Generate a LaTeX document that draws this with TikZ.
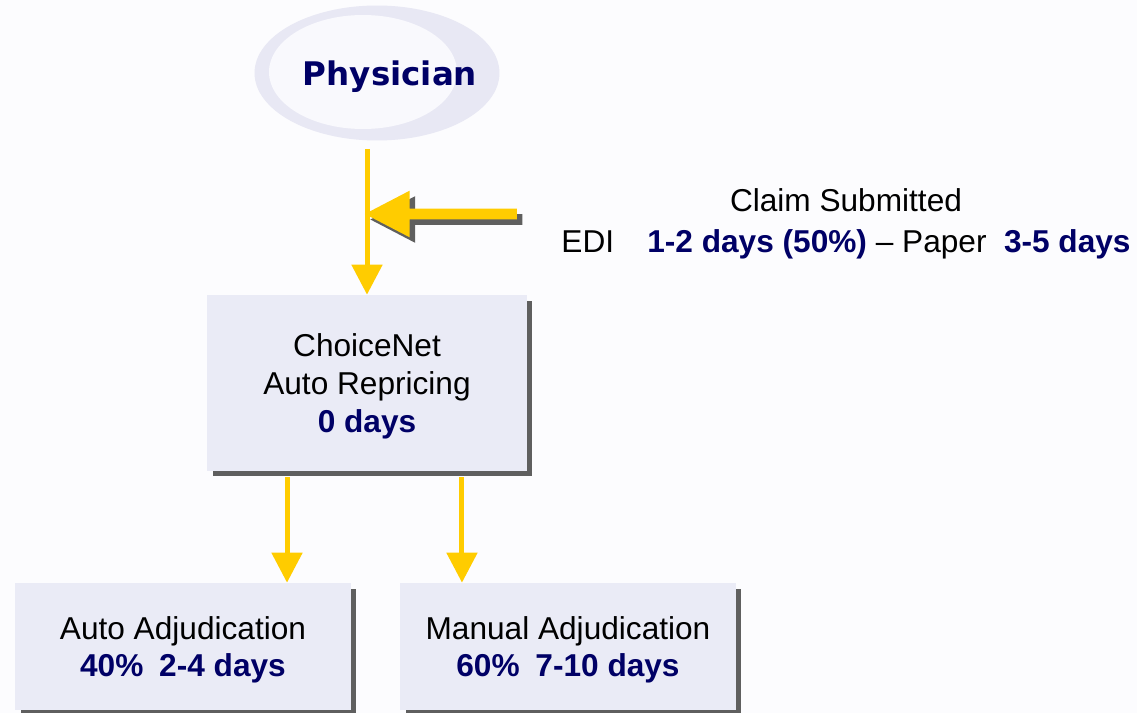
\documentclass[tikz,border=0pt]{standalone}
\usepackage{fontspec}
\setmainfont{Liberation Sans}
\newfontfamily\physfont{DejaVu Sans}
\usetikzlibrary{arrows.meta,shapes.geometric,shapes.arrows,shadows}

\definecolor{navyday}{HTML}{000066}
\definecolor{boxfill}{HTML}{EAEBF6}
\definecolor{ringfill}{HTML}{E8E8F4}
\definecolor{innerfill}{HTML}{F9F9FD}
\definecolor{bgfill}{HTML}{FCFCFE}
\definecolor{flowyellow}{HTML}{FFCC00}
\definecolor{shadowgray}{HTML}{5F5F5F}

\tikzset{
    grayshadow/.style={drop shadow={shadow xshift=0.11cm, shadow yshift=-0.11cm,
        fill=shadowgray, opacity=1}},
    stagebox/.style={fill=boxfill, grayshadow, inner sep=0pt, align=center,
        text depth=-0.05cm, font=\fontsize{18}{21.5}\selectfont},
    yarrow/.style={draw=flowyellow, line width=0.1cm,
        -{Triangle[width=0.6cm,length=0.6cm]}}
}

\begin{document}
\begin{tikzpicture}[x=0.02cm, y=-0.02cm]
    % Background
    \fill[bgfill] (0,0) rectangle (1137,713);

    % Physician ellipse
    \node[ellipse, fill=ringfill, inner sep=0pt, minimum width=4.9cm,
        minimum height=2.7cm] (physring) at (377,73) {};
    \fill[innerfill] (363,72) ellipse [x radius=1.88cm, y radius=1.14cm];
    \node[color=navyday, font=\physfont\bfseries\fontsize{18.5}{22}\selectfont]
        (phys) at (390,77) {Physician};

    % Repricing box
    \node[stagebox, minimum width=6.4cm, minimum height=3.52cm] (choice) at (367,383)
        {ChoiceNet\\Auto Repricing\\{\color{navyday}\bfseries 0 days}};

    % Adjudication boxes
    \node[stagebox, minimum width=6.72cm, minimum height=2.54cm] (autoadj) at (183,646.5)
        {Auto Adjudication\\{\color{navyday}\bfseries 40\%\hspace{0.5em}2-4 days}};
    \node[stagebox, minimum width=6.72cm, minimum height=2.54cm] (manadj) at (568,646.5)
        {Manual Adjudication\\{\color{navyday}\bfseries 60\%\hspace{0.5em}7-10 days}};

    % Claim submitted label
    \node[align=center, font=\fontsize{18}{23}\selectfont] (claim) at (846,224)
        {Claim Submitted\\EDI\hspace{1.05em}{\color{navyday}\bfseries 1-2 days (50\%)}
        -- Paper\hspace{0.55em}{\color{navyday}\bfseries 3-5 days}};

    % Flow arrows
    \draw[yarrow] ([yshift=-0.16cm]choice.north |- physring.south) -- (choice.north);
    \draw[yarrow] ([xshift=-1.6cm,yshift=-0.12cm]choice.south)
        -- ([xshift=-1.6cm]choice.south |- autoadj.north);
    \draw[yarrow] ([xshift=1.9cm,yshift=-0.12cm]choice.south)
        -- ([xshift=1.9cm]choice.south |- manadj.north);

    % Claim arrow
    \node[single arrow, shape border rotate=180, fill=flowyellow, grayshadow,
        minimum height=3.04cm, minimum width=0.9cm, inner xsep=0pt, inner ysep=0.1cm,
        single arrow head extend=0.36cm, single arrow tip angle=55]
        (claimarrow) at (446,214) {};
\end{tikzpicture}
\end{document}
